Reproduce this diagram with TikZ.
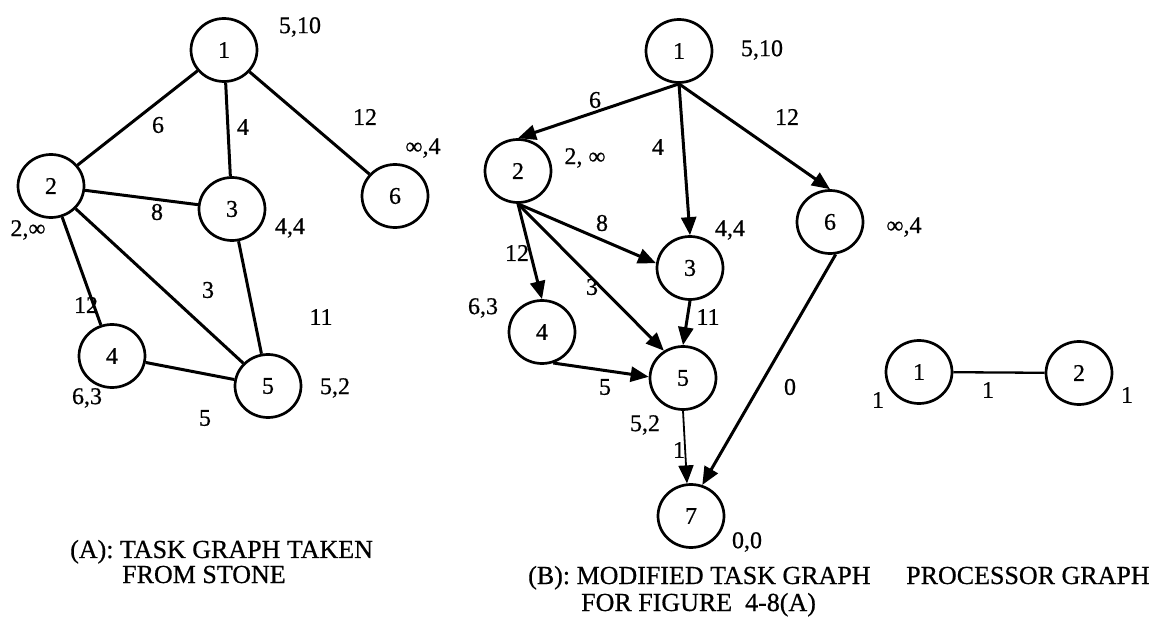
\documentclass[tikz,border=0pt]{standalone}
\usepackage{fontspec}
\setmainfont{Liberation Serif}[FakeBold=0.6]
\usetikzlibrary{arrows.meta,shapes.geometric}
\newcommand\lblfont{\fontsize{24}{24}\selectfont}
\newcommand\capfont{\fontsize{26}{26}\selectfont}
\begin{document}
\begin{tikzpicture}[x=1pt,y=-1pt,
  tnode/.style={draw, ellipse, line width=2.7pt, minimum width=66pt,
                minimum height=63pt, inner sep=0pt, font=\lblfont},
  wlabel/.style={font=\lblfont, inner sep=0pt},
  caption/.style={font=\capfont, anchor=base west, inner sep=0pt},
  link/.style={line width=3pt},
  arc/.style={link, -{Triangle[length=18pt,width=15pt]}},
  thinarc/.style={line width=1.8pt, -{Triangle[length=18pt,width=15pt]}}]
\useasboundingbox (0,0) rectangle (1152,617);

% ---------- (A) task graph ----------
\node[tnode] (a1) at (224,50)  {1};
\node[tnode] (a2) at (51,186)  {2};
\node[tnode] (a3) at (232,209) {3};
\node[tnode] (a4) at (112,356) {4};
\node[tnode] (a5) at (268,386) {5};
\node[tnode] (a6) at (395,196) {6};

\draw[link] (a1) -- (a2);
\draw[link] (a1) -- (a3);
\draw[link] (a1) -- (a6);
\draw[link] (a2) -- (a3);
\draw[link] (a2) -- (a4);
\draw[link] (a2) -- (a5);
\draw[link] (a3) -- (a5);
\draw[link] (a4) -- (a5);

\node[wlabel] (la1)  at (300,27)  {5,10};
\node[wlabel] (la12) at (158,125) {6};
\node[wlabel] (la13) at (243,127) {4};
\node[wlabel] (la16) at (365,117) {12};
\node[wlabel] (la6)  at (423,148) {∞,4};
\node[wlabel] (la2)  at (28,230)  {2,∞};
\node[wlabel] (la23) at (157,212) {8};
\node[wlabel] (la3)  at (290,228) {4,4};
\node[wlabel] (la25) at (208,290) {3};
\node[wlabel] (la24) at (86,305)  {12};
\node[wlabel] (la35) at (321,317) {11};
\node[wlabel] (la4)  at (87,398)  {6,3};
\node[wlabel] (la5)  at (335,388) {5,2};
\node[wlabel] (la45) at (205,418) {5};

\node[caption] (capa1) at (70,558)  {(A): TASK GRAPH TAKEN};
\node[caption] (capa2) at (122,583) {FROM STONE};

% ---------- (B) modified task graph ----------
\node[tnode] (b1) at (679,51)  {1};
\node[tnode] (b2) at (518,171) {2};
\node[tnode] (b3) at (690,268) {3};
\node[tnode] (b4) at (542,332) {4};
\node[tnode] (b5) at (683,378) {5};
\node[tnode] (b6) at (830,222) {6};
\node[tnode] (b7) at (691,516) {7};

\draw[arc] (b1.south) -- (b2.north);
\draw[arc] (b1.south) -- (b3.north);
\draw[arc] (b1.south) -- (b6.north);
\draw[arc] (b2.south) -- (b3.172);
\draw[arc] (b2.south) -- (b4.north);
\draw[arc] (b2.south) -- (b5.125);
\draw[arc] (b3.south) -- (b5.north);
\draw[arc] (b4.-70) -- (b5.178);
\draw[thinarc] (b5.south) -- (b7.97);
\draw[arc] (b6.-80) -- (b7.70);

\node[wlabel] (lb1)  at (762,50)  {5,10};
\node[wlabel] (lb12) at (595,100) {6};
\node[wlabel] (lb13) at (658,147) {4};
\node[wlabel] (lb16) at (787,117) {12};
\node[wlabel] (lb2)  at (585,158) {2, ∞};
\node[wlabel] (lb23) at (602,223) {8};
\node[wlabel] (lb3)  at (730,230) {4,4};
\node[wlabel] (lb24) at (517,253) {12};
\node[wlabel] (lb25) at (592,287) {3};
\node[wlabel] (lb4)  at (483,308) {6,3};
\node[wlabel] (lb35) at (708,317) {11};
\node[wlabel] (lb45) at (605,387) {5};
\node[wlabel] (lb67) at (790,387) {0};
\node[wlabel] (lb6)  at (904,227) {∞,4};
\node[wlabel] (lb5)  at (645,425) {5,2};
\node[wlabel] (lb57) at (679,450) {1};
\node[wlabel] (lb7)  at (747,542) {0,0};

\node[caption] (capb1) at (528,584) {(B): MODIFIED TASK GRAPH};
\node[caption] (capb2) at (581,611) {FOR FIGURE\ \ 4-8(A)};

% ---------- processor graph ----------
\node[tnode] (p1) at (919,372)  {1};
\node[tnode] (p2) at (1079,373) {2};
\draw[line width=2.3pt] (p1) -- (p2);

\node[wlabel] (lp1)  at (878,400)  {1};
\node[wlabel] (lp12) at (988,390)  {1};
\node[wlabel] (lp2)  at (1127,395) {1};

\node[caption] (capp) at (906,584) {PROCESSOR GRAPH};
\end{tikzpicture}
\end{document}
